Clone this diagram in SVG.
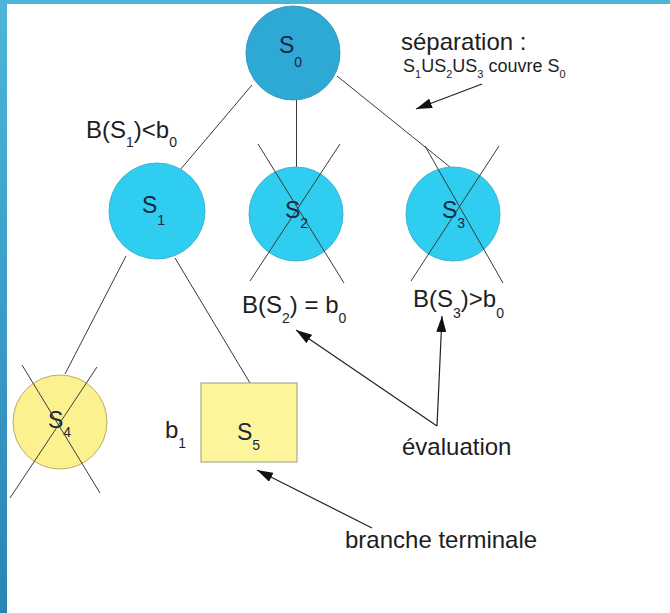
<svg xmlns="http://www.w3.org/2000/svg" width="670" height="613" viewBox="0 0 670 613">
  <defs>
    <linearGradient id="barGrad" x1="0" y1="0" x2="0" y2="1">
      <stop offset="0" stop-color="#4bb6da"/>
      <stop offset="1" stop-color="#2a84b4"/>
    </linearGradient>
    <marker id="arrow" viewBox="0 0 16 10" refX="16" refY="5" markerWidth="16" markerHeight="10" markerUnits="userSpaceOnUse" orient="auto">
      <path d="M0,0 L16,5 L0,10 Z" fill="#111"/>
    </marker>
    <style>
      text { font-family: "Liberation Sans", Arial, sans-serif; fill: #1e1e1e; }
      .lbl { font-size: 24px; }
      .node { font-size: 23px; fill: #1b2640; }
      .sub { font-size: 14px; }
      .edge { stroke: #3a3a3a; stroke-width: 1; fill: none; }
      .cross { stroke: #3a3a3a; stroke-width: 1; fill: none; }
      .arr { stroke: #222; stroke-width: 1.2; fill: none; marker-end: url(#arrow); }
      .blue { fill: #2ea9d6; stroke: #3a9cc0; stroke-width: 1; }
      .cyan { fill: #2fcdef; stroke: #3db5d4; stroke-width: 1; }
      .yellow { fill: #fbf28f; stroke: #b8ac6a; stroke-width: 1; }
    </style>
  </defs>

  <rect x="0" y="0" width="670" height="613" fill="#ffffff"/>
  <rect x="0" y="0" width="670" height="4" fill="#4bb6da"/>
  <rect x="0" y="0" width="7" height="613" fill="url(#barGrad)"/>

  <g id="connectors">
    <line class="edge" x1="252" y1="85" x2="180" y2="170"/>
    <line class="edge" x1="296.5" y1="100" x2="296.5" y2="167"/>
    <line class="edge" x1="337" y1="76" x2="450" y2="167"/>
    <line class="edge" x1="126" y1="256" x2="65" y2="374"/>
    <line class="edge" x1="175" y1="258" x2="250" y2="383"/>
  </g>

  <g id="S0">
    <circle class="blue" cx="293" cy="53" r="47"/>
    <text class="node" x="279" y="53">S<tspan class="sub" dy="14">0</tspan></text>
  </g>

  <g id="S1">
    <circle class="cyan" cx="157" cy="211" r="48"/>
    <text class="node" x="142" y="213">S<tspan class="sub" dy="12">1</tspan></text>
  </g>

  <g id="S2">
    <circle class="cyan" cx="296" cy="214" r="47"/>
    <text class="node" x="285" y="218">S<tspan class="sub" dy="10">2</tspan></text>
    <line class="cross" x1="258" y1="144" x2="344" y2="283"/>
    <line class="cross" x1="340" y1="144" x2="250" y2="281"/>
  </g>

  <g id="S3">
    <circle class="cyan" cx="453" cy="214" r="47"/>
    <text class="node" x="442" y="218">S<tspan class="sub" dy="10">3</tspan></text>
    <line class="cross" x1="425" y1="146" x2="503" y2="283"/>
    <line class="cross" x1="499" y1="146" x2="411" y2="281"/>
  </g>

  <g id="S4">
    <circle class="yellow" cx="60" cy="422" r="47"/>
    <text class="node" x="48" y="428">S<tspan class="sub" dy="9">4</tspan></text>
    <line class="cross" x1="22" y1="365" x2="100" y2="493"/>
    <line class="cross" x1="97" y1="367" x2="10" y2="498"/>
  </g>

  <g id="S5">
    <rect x="201" y="383" width="96" height="79" fill="#fcf59b" stroke="#9a9a80" stroke-width="1"/>
    <text class="node" x="237" y="440">S<tspan class="sub" dy="10">5</tspan></text>
  </g>

  <g id="labels">
    <text class="lbl" x="86" y="138">B(S<tspan class="sub" dy="9">1</tspan><tspan dy="-9">)&lt;b</tspan><tspan class="sub" dy="9">0</tspan></text>
    <text class="lbl" x="242" y="313">B(S<tspan class="sub" dy="10">2</tspan><tspan dy="-10">) = b</tspan><tspan class="sub" dy="10">0</tspan></text>
    <text class="lbl" x="413" y="307">B(S<tspan class="sub" dy="11">3</tspan><tspan dy="-11">)&gt;b</tspan><tspan class="sub" dy="11">0</tspan></text>
    <text class="lbl" x="165" y="438">b<tspan class="sub" dy="10">1</tspan></text>
    <text class="lbl" x="401" y="50">séparation :</text>
    <text x="403" y="72" font-size="18">S<tspan font-size="11" dy="6">1</tspan><tspan dy="-6">US</tspan><tspan font-size="11" dy="6">2</tspan><tspan dy="-6">US</tspan><tspan font-size="11" dy="6">3</tspan><tspan dy="-6"> couvre S</tspan><tspan font-size="11" dy="6">0</tspan></text>
    <text class="lbl" x="402" y="455">évaluation</text>
    <text class="lbl" x="345" y="548">branche terminale</text>
  </g>

  <g id="arrows">
    <line class="arr" x1="482" y1="84" x2="416" y2="109"/>
    <line class="arr" x1="437" y1="426" x2="296" y2="330"/>
    <line class="arr" x1="437" y1="426" x2="442" y2="316"/>
    <line class="arr" x1="372" y1="528" x2="257" y2="470"/>
  </g>
</svg>
